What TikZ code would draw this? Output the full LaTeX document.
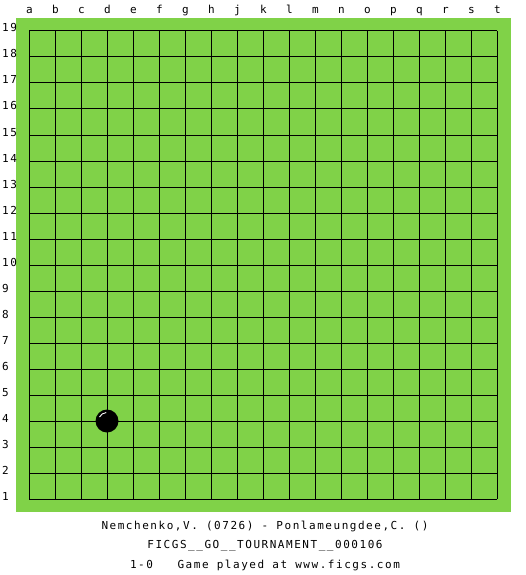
\documentclass[tikz,border=0pt]{standalone}
\usepackage{fontspec}
\newfontfamily\boardfont[LetterSpace=14]{DejaVu Sans Mono}
\definecolor{boardgreen}{RGB}{128,210,72}
\tikzset{
  lbl/.style={font=\boardfont\fontsize{11}{12}\selectfont, inner sep=0pt},
  gridline/.style={line width=1pt, black},
}
\begin{document}
\begin{tikzpicture}[x=1pt,y=-1pt]
\useasboundingbox (0,0) rectangle (525,575);
\fill[white] (0,0) rectangle (525,575);
\fill[boardgreen] (16,18) rectangle (511,512);
% grid
\foreach \i in {0,...,18} {
  \draw[gridline] ({29+26*\i},31) -- ({29+26*\i},499);
  \draw[gridline] (29,{31+26*\i}) -- (497,{31+26*\i});
}
% column labels
\foreach \l [count=\i from 0] in {a,b,c,d,e,f,g,h,j,k,l,m,n,o,p,q,r,s,t} {
  \node[lbl, anchor=base] (col\l) at ({29.5+26*\i},14) {\l};
}
% row labels
\foreach \r in {1,...,19} {
  \node[lbl, anchor=base west] (row\r) at (2,{500-26*(\r-1)}) {\r};
}
% stone at d4
\fill[black] (107,421) circle[radius=11.5pt];
\draw[white, line width=0.9pt] (107,421) ++(95:8.5pt) arc[start angle=95, end angle=152, radius=8.5pt];
% captions
\node[lbl, anchor=base] (t1) at (265,529) {Nemchenko,V. (0726) - Ponlameungdee,C. ()};
\node[lbl, anchor=base] (t2) at (265,548.5) {FICGS\_\_GO\_\_TOURNAMENT\_\_000106};
\node[lbl, anchor=base] (t3) at (265,568) {1-0\ \ \ Game played at www.ficgs.com};
\end{tikzpicture}
\end{document}
